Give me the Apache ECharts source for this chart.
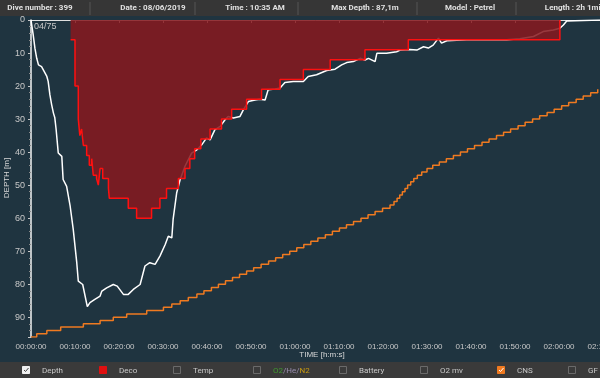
<!DOCTYPE html>
<html>
<head>
<meta charset="utf-8">
<script src="https://cdn.jsdelivr.net/npm/echarts@6/dist/echarts.min.js"></script>
<style>
  html, body { margin: 0; padding: 0; background: #1f3440; }
  #chart { width: 600px; height: 378px; }
</style>
</head>
<body>
<div id="chart"></div>
<script>
// dive profile, time in minutes, depth in m
var depthTime = [0, 0.5, 0.9, 1.3, 1.7, 2.4, 3.2, 3.6, 3.9, 4.3, 4.7, 5.1, 5.4, 5.7, 6.2, 7.0, 7.3, 8.1, 8.9, 9.6, 10.4, 10.75, 11.75, 12.8, 13.4, 14.5, 15.7, 16.1, 17.2, 18.7, 19.6, 21.0, 22.1, 23.25, 24.8, 25.9, 27.0, 28.2, 29.3, 30.5, 31.2, 32.0, 32.3, 33.1, 33.9, 35.0, 36.5, 37.7, 38.8, 39.9, 40.7, 41.8, 43.0, 44.1, 44.8, 46.0, 47.5, 48.25, 49.4, 50.9, 52.0, 53.2, 53.9, 55.5, 56.6, 57.7, 59.6, 61.9, 63.0, 64.9, 67.2, 69.1, 70.6, 71.75, 73.25, 74.8, 75.9, 76.7, 78.2, 78.6, 80.8, 83.1, 83.9, 86.1, 87.7, 89.2, 90.3, 91.4, 92.6, 93.3, 94.5, 99.0, 103.6, 108.1, 111.1, 114.2, 116.4, 118.7, 120.2, 121.0, 121.75, 130];
var depthVal = [0, 4.5, 8.6, 11.6, 13.6, 14.1, 16.1, 17.1, 18.6, 22.7, 25.7, 28.2, 29.5, 33.0, 40.3, 41.3, 48.3, 50.4, 56.4, 63.4, 73.5, 79.1, 80.1, 86.8, 85.6, 84.6, 83.6, 82.1, 81.1, 80.1, 80.6, 83.1, 83.1, 81.6, 80.1, 74.5, 73.5, 74.0, 71.5, 68.0, 65.5, 66.0, 60.4, 52.4, 48.3, 44.3, 40.3, 39.3, 37.8, 35.7, 36.3, 33.2, 32.2, 30.2, 29.2, 29.7, 29.2, 27.2, 24.7, 24.2, 24.0, 24.2, 21.1, 20.9, 20.6, 18.9, 18.6, 18.6, 17.1, 16.6, 15.3, 14.9, 13.6, 12.9, 12.6, 11.6, 12.1, 11.6, 12.6, 10.1, 10.1, 9.6, 9.1, 8.9, 9.1, 8.1, 8.5, 7.6, 5.5, 7.0, 6.3, 6.0, 6.0, 6.0, 5.7, 5.0, 3.5, 3.0, 2.5, 1.5, 0.3, 0];

// deco ceiling (m)
var decoTime = [9.0, 10.0, 10.75, 11.1, 11.5, 11.9, 12.65, 13.25, 13.8, 14.15, 14.9, 15.3, 15.7, 16.3, 17.6, 17.8, 22.1, 24.0, 27.4, 29.3, 30.8, 33.5, 35.0, 36.1, 37.2, 38.6, 40.7, 43.3, 45.6, 49.0, 52.4, 56.6, 61.9, 68.0, 75.9, 85.75, 120.2];
var decoVal = [6, 20, 30, 35, 33, 38, 41, 44, 42, 47, 48, 50, 45, 48, 51, 54, 57, 60, 57, 54, 51, 48, 45, 42, 39, 36, 33, 30, 27, 24, 21, 18, 15, 12, 9, 6, 0];

// CNS %
var cnsTime = [0, 1.3, 3.6, 6.75, 11.9, 15.7, 18.7, 21.75, 26.3, 30.1, 32.0, 33.9, 35.75, 37.7, 39.3, 41, 42.6, 44.2, 45.8, 47.4, 49, 50.6, 52.3, 54, 55.6, 57.2, 58.8, 60.4, 62, 63.6, 65.2, 66.9, 68.5, 70.1, 71.7, 73.3, 75, 76.6, 78.2, 79.9, 81.6, 82.5, 83.2, 83.8, 84.4, 85, 85.6, 86.3, 87, 87.8, 88.8, 90, 91.3, 92.8, 94.4, 96, 97.6, 99.2, 100.8, 102.5, 104.1, 105.8, 107.4, 109, 110.7, 112.3, 114, 115.6, 117.3, 118.9, 120.6, 122.2, 123.9, 125.5, 127.2, 128.8];
var cnsVal = [0, 1, 2, 3, 4, 5, 6, 7, 8, 9, 10, 11, 12, 13, 14, 15, 16, 17, 18, 19, 20, 21, 22, 23, 24, 25, 26, 27, 28, 29, 30, 31, 32, 33, 34, 35, 36, 37, 38, 39, 40, 41, 42, 43, 44, 45, 46, 47, 48, 49, 50, 51, 52, 53, 54, 55, 56, 57, 58, 59, 60, 61, 62, 63, 64, 65, 66, 67, 68, 69, 70, 71, 72, 73, 74, 75];

var headerItems = ['Dive number : 399', 'Date : 08/06/2019', 'Time : 10:35 AM', 'Max Depth : 87,1m', 'Model : Petrel', 'Length : 2h 1min'];
var headerCenters = [40, 153, 255, 365, 470, 575];
var headerSeps = [90, 195, 298, 417, 516];

var legendItems = ['Depth', 'Deco', 'Temp', 'O2/He/N2', 'Battery', 'O2 mv', 'CNS', 'GF'];
var legendBoxX = [26, 103, 177, 257, 343, 424, 501, 572];
var legendState = ['white', 'red', '', '', '', '', 'orange', ''];

function pairs(xs, ys) {
  var out = [];
  for (var i = 0; i < xs.length; i++) out.push([xs[i], ys[i]]);
  return out;
}
function pad(n) { return n < 10 ? '0' + n : '' + n; }
function hms(m) {
  return pad(Math.floor(m / 60)) + ':' + pad(m % 60) + ':00';
}

var chart = echarts.init(document.getElementById('chart'), null, { renderer: 'canvas' });

var graphics = [];
// header bar
graphics.push({ type: 'rect', left: 0, top: 0, shape: { width: 600, height: 16 }, style: { fill: '#363636' }, z: 10 });
for (var i = 0; i < headerItems.length; i++) {
  graphics.push({
    type: 'text', x: headerCenters[i], y: 8, z: 11,
    style: { text: headerItems[i], fill: '#e0e0e0', font: 'bold 8px Roboto', align: 'center', verticalAlign: 'middle' }
  });
}
for (var j = 0; j < headerSeps.length; j++) {
  graphics.push({ type: 'line', z: 11, shape: { x1: headerSeps[j], y1: 2, x2: headerSeps[j], y2: 15 }, style: { stroke: '#555', lineWidth: 1 } });
}
// footer legend
graphics.push({ type: 'rect', left: 0, top: 362, shape: { width: 600, height: 16 }, style: { fill: '#3a3a3a' }, z: 10 });
for (var k = 0; k < legendItems.length; k++) {
  var bx = legendBoxX[k];
  var st = legendState[k];
  var fill = st === 'white' ? '#f0f0f0' : st === 'red' ? '#e01010' : st === 'orange' ? '#f07a20' : 'none';
  graphics.push({
    type: 'rect', z: 11, shape: { x: bx - 3.5, y: 366.5, width: 7, height: 7 },
    style: { fill: fill, stroke: st ? fill : '#6a6a6a', lineWidth: 1 }
  });
  if (st === 'white' || st === 'orange') {
    graphics.push({
      type: 'polyline', z: 12, shape: { points: [[bx - 2, 370], [bx - 0.5, 371.5], [bx + 2.5, 368]] },
      style: { stroke: st === 'white' ? '#444' : '#fff', lineWidth: 1, fill: null }
    });
  }
  var txt = legendItems[k];
  var tstyle = { fill: '#c8c8c8', font: '8px Roboto', verticalAlign: 'middle' };
  if (txt === 'O2/He/N2') {
    tstyle.text = '{g|O2}{n|/He/}{y|N2}';
    tstyle.rich = {
      g: { fill: '#3e9a2e', font: '8px Roboto' },
      n: { fill: '#9a8fb0', font: '8px Roboto' },
      y: { fill: '#c89a10', font: '8px Roboto' }
    };
  } else {
    tstyle.text = txt;
  }
  graphics.push({ type: 'text', x: bx + 16, y: 370.5, z: 11, style: tstyle });
}
graphics.push({ type: 'text', x: 34, y: 27, z: 5, style: { text: '04/75', fill: '#c8c8c8', font: '9px sans-serif', verticalAlign: 'middle' } });
// axis names
graphics.push({ type: 'text', x: 7, y: 178, rotation: Math.PI / 2, z: 5, style: { text: 'DEPTH [m]', fill: '#d8d8d8', font: '8px sans-serif', align: 'center', verticalAlign: 'middle' } });
graphics.push({ type: 'text', x: 322, y: 355, z: 5, style: { text: 'TIME [h:m:s]', fill: '#d8d8d8', font: '8px sans-serif', align: 'center', verticalAlign: 'middle' } });

var option = {
  backgroundColor: '#1f3440',
  animation: false,
  grid: { left: 31, top: 20, bottom: 41, width: 572, containLabel: false, outerBoundsMode: 'none' },
  xAxis: {
    type: 'value', min: 0, max: 130, interval: 10,
    axisLine: { show: true, lineStyle: { color: '#e0e0e0', width: 1 } },
    axisTick: { show: true, length: 3, lineStyle: { color: '#e0e0e0' } },
    axisLabel: { color: '#c8c8c8', fontSize: 8, margin: 6, showMaxLabel: true, formatter: hms },
    splitLine: { show: false }
  },
  yAxis: [{
    type: 'value', inverse: true, min: 0, max: 96, interval: 10,
    axisLine: { show: true, lineStyle: { color: '#f4f4f4', width: 1.5 } },
    axisTick: { show: true, length: 3, lineStyle: { color: '#c8c8c8' } },
    minorTick: { show: true, splitNumber: 5, length: 2, lineStyle: { color: '#8a8a8a' } },
    axisLabel: { color: '#c8c8c8', fontSize: 9, margin: 6, showMaxLabel: false },
    splitLine: { show: false }
  }, {
    type: 'value', min: 0, max: 96, show: false
  }],
  series: [{
    name: 'Depth', type: 'line', data: pairs(depthTime, depthVal),
    showSymbol: false, z: 2,
    lineStyle: { color: '#ffffff', width: 1.5 }
  }, {
    name: 'Deco', type: 'line', step: 'end', data: pairs(decoTime, decoVal),
    showSymbol: false, z: 3,
    lineStyle: { color: '#ff1010', width: 1.5 },
    areaStyle: { origin: 'start', color: 'rgba(135,24,30,0.86)', opacity: 1 }
  }, {
    name: 'CNS', type: 'line', step: 'end', yAxisIndex: 1, data: pairs(cnsTime, cnsVal),
    showSymbol: false, z: 2,
    lineStyle: { color: '#f07a20', width: 1.5 }
  }],
  graphic: graphics
};
chart.setOption(option);
</script>
</body>
</html>
